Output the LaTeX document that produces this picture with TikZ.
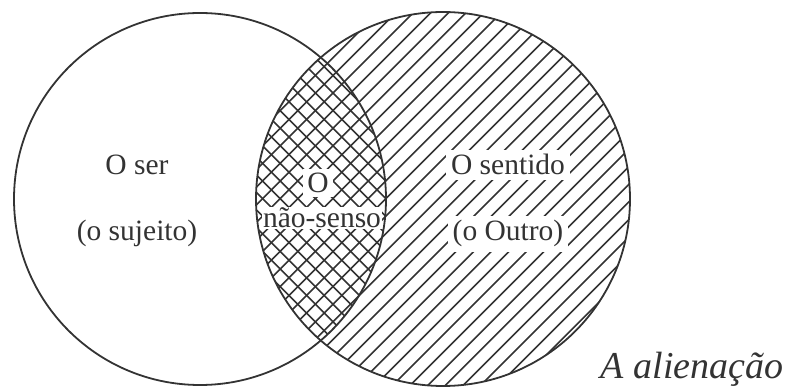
\documentclass[tikz,border=0pt]{standalone}
\usepackage{fontspec}
\setmainfont{Liberation Serif}
\usepackage{tikz}
\usetikzlibrary{positioning}

\definecolor{ink}{HTML}{333333}
\tikzset{
  set/.style={draw=ink, line width=1.8pt},
  hatch/.style={draw=ink, line width=1.6pt},
  setlabel/.style={fill=white, inner sep=5pt, anchor=base, font=\fontsize{29.5}{31}\selectfont, text=ink}
}

\begin{document}
\begin{tikzpicture}[x=1pt,y=-1pt]
  \useasboundingbox (0,0) rectangle (787,387);

  % the two sets
  \coordinate (ser) at (200,199);
  \coordinate (sentido) at (443,199);

  % hatching of the Other
  \begin{scope}
    \clip (sentido) circle (187);
    \foreach \c in {250,267.6,...,1060}
      \draw[hatch] (\c,0) -- (\c-400,400);
    % crossing lines in the intersection
    \clip (ser) circle (186);
    \foreach \c in {-200,-182.4,...,420}
      \draw[hatch] (\c,0) -- (\c+400,400);
  \end{scope}

  \draw[set] (ser) circle (186);
  \draw[set] (sentido) circle (187);

  % labels
  \node[setlabel, fill=none] (sujeito1) at (137,175) {O ser};
  \node[setlabel, fill=none] (sujeito2) at (137,241) {(o sujeito)};
  \node[setlabel, inner sep=4pt] (nonsense1) at (318,193) {O};
  \node[setlabel, inner sep=1pt] (nonsense2) at (322,228) {não-senso};
  \node[setlabel] (outro1) at (508,175) {O sentido};
  \node[setlabel] (outro2) at (508,241) {(o Outro)};
  \node[anchor=base, text=ink, font=\fontsize{38}{40}\selectfont\itshape] (title) at (692,378) {A alienação};
\end{tikzpicture}
\end{document}
